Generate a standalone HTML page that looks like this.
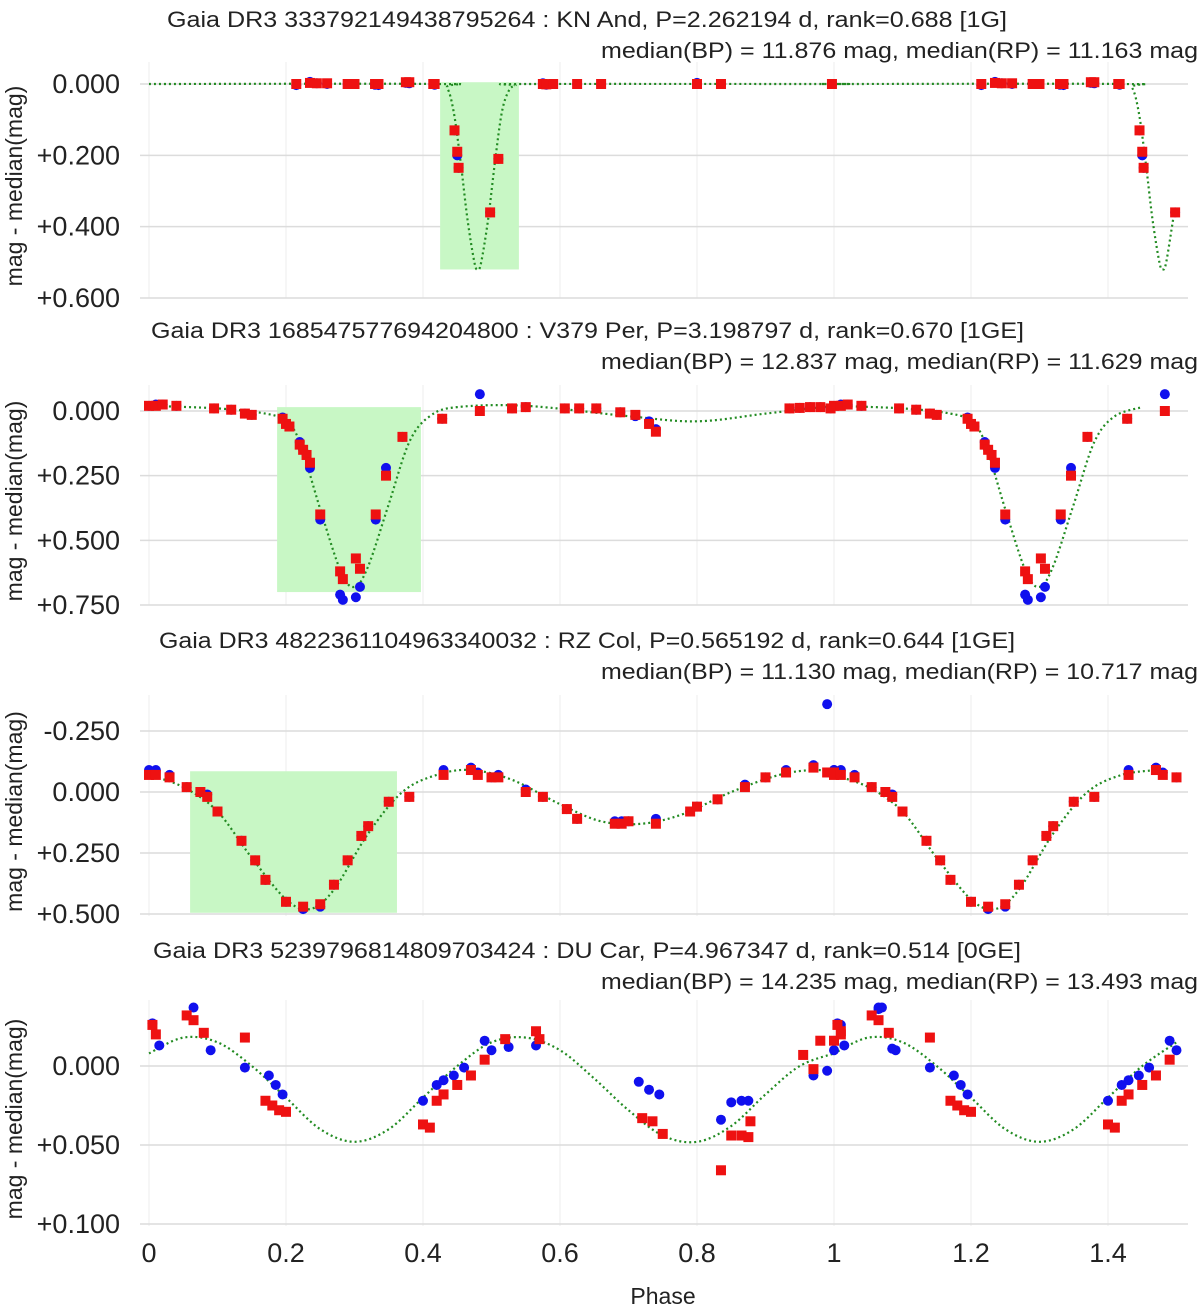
<!DOCTYPE html>
<html><head><meta charset="utf-8">
<style>
body{margin:0;background:#fff;}
svg{display:block;font-family:"Liberation Sans",sans-serif;}
</style></head>
<body>
<svg id="chart" width="1200" height="1307" viewBox="0 0 1200 1307" xmlns="http://www.w3.org/2000/svg"></svg>
<script>
// ---- Panel 1: KN And ----
const p1Titles = ["Gaia DR3 333792149438795264 : KN And, P=2.262194 d, rank=0.688 [1G]", "median(BP) = 11.876 mag, median(RP) = 11.163 mag"];
const p1Ticks = [0, 0.2, 0.4, 0.6];
const p1TickLabels = ["0.000", "+0.200", "+0.400", "+0.600"];
const p1Phase = [0.215,0.235,0.245,0.26,0.29,0.3,0.33,0.335,0.375,0.38,0.415,0.417,0.446,0.45,0.452,0.51,0.498,0.575,0.58,0.59,0.625,0.66,0.8,0.835,0.997];
const p1Red = [0,-0.003,-0.002,-0.002,0,0,0,0,-0.005,-0.005,0,0,0.13,0.19,0.235,0.21,0.36,0,0.001,0,0,0,0,0,0];
const p1Blue = [0.003,-0.006,-0.002,0,0,0,0.002,0.003,-0.003,-0.002,0,0.002,0.13,0.2,0.235,0.21,0.36,-0.002,0.002,0,0,0,-0.003,0,0];
const p1ModelPhase = [0,0.42,0.435,0.445,0.455,0.465,0.475,0.48,0.485,0.495,0.505,0.515,0.525,0.535,0.55,1];
const p1ModelMag = [0,0,0.01,0.08,0.22,0.38,0.5,0.52,0.5,0.38,0.22,0.08,0.02,0.004,0,0];
const p1Shade = [0.425, 0.54, -0.005, 0.52];

// ---- Panel 2: V379 Per ----
const p2Titles = ["Gaia DR3 168547577694204800 : V379 Per, P=3.198797 d, rank=0.670 [1GE]", "median(BP) = 12.837 mag, median(RP) = 11.629 mag"];
const p2Ticks = [0, 0.25, 0.5, 0.75];
const p2TickLabels = ["0.000", "+0.250", "+0.500", "+0.750"];
const p2Phase = [0,0.01,0.02,0.04,0.095,0.12,0.14,0.15,0.195,0.2,0.205,0.22,0.225,0.23,0.235,0.25,0.279,0.283,0.302,0.308,0.331,0.346,0.37,0.428,0.483,0.53,0.55,0.607,0.628,0.653,0.688,0.71,0.73,0.74,0.935,0.95,0.965,0.98,0.995];
const p2Red = [-0.02,-0.02,-0.025,-0.02,-0.01,-0.005,0.01,0.015,0.03,0.05,0.06,0.13,0.15,0.17,0.2,0.4,0.62,0.65,0.57,0.61,0.4,0.25,0.1,0.03,0,-0.01,-0.015,-0.01,-0.01,-0.01,0.005,0.015,0.05,0.08,-0.01,-0.012,-0.015,-0.015,-0.01];
const p2Blue = [-0.02,-0.025,-0.025,-0.02,-0.01,-0.005,0.01,0.015,0.025,0.05,0.06,0.12,0.15,0.17,0.22,0.42,0.71,0.73,0.72,0.68,0.42,0.22,0.1,0.03,-0.065,-0.01,-0.015,-0.01,-0.01,-0.01,0.005,0.02,0.04,0.07,-0.01,-0.012,-0.015,-0.015,-0.01];
const p2ModelPhase = [0,0.1,0.17,0.2,0.22,0.25,0.28,0.3,0.32,0.35,0.38,0.41,0.45,0.55,0.7,0.8,0.9,1];
const p2ModelMag = [-0.02,-0.01,0.01,0.04,0.12,0.38,0.62,0.68,0.6,0.36,0.12,0.02,-0.015,-0.02,0.02,0.04,0.01,-0.02];
const p2Shade = [0.187, 0.397, -0.015, 0.7];

// ---- Panel 3: RZ Col ----
const p3Titles = ["Gaia DR3 4822361104963340032 : RZ Col, P=0.565192 d, rank=0.644 [1GE]", "median(BP) = 11.130 mag, median(RP) = 10.717 mag"];
const p3Ticks = [-0.25, 0, 0.25, 0.5];
const p3TickLabels = ["-0.250", "0.000", "+0.250", "+0.500"];
const p3Phase = [0,0.01,0.03,0.055,0.075,0.085,0.1,0.135,0.155,0.17,0.2,0.225,0.25,0.27,0.29,0.31,0.32,0.35,0.38,0.43,0.47,0.48,0.5,0.51,0.55,0.575,0.61,0.625,0.68,0.69,0.7,0.74,0.79,0.8,0.83,0.87,0.9,0.93,0.97,0.99,1.0];
const p3Red = [-0.07,-0.07,-0.06,-0.02,0.0,0.02,0.08,0.2,0.28,0.36,0.45,0.47,0.46,0.38,0.28,0.18,0.14,0.04,0.02,-0.07,-0.09,-0.07,-0.06,-0.06,0.0,0.02,0.07,0.11,0.13,0.13,0.12,0.13,0.08,0.06,0.03,-0.02,-0.06,-0.08,-0.1,-0.08,-0.08];
const p3Blue = [-0.09,-0.09,-0.07,-0.02,0.0,0.01,0.08,0.2,0.28,0.36,0.45,0.48,0.47,0.38,0.28,0.18,0.14,0.04,0.02,-0.09,-0.1,-0.08,-0.06,-0.07,-0.01,0.02,0.07,0.11,0.12,0.12,0.12,0.11,0.08,0.06,0.03,-0.03,-0.06,-0.09,-0.11,-0.36,-0.09];
const p3ModelPhase = [0,0.05,0.1,0.15,0.2,0.235,0.27,0.32,0.37,0.42,0.47,0.53,0.6,0.66,0.72,0.78,0.85,0.92,0.97,1];
const p3ModelMag = [-0.07,-0.02,0.08,0.27,0.44,0.48,0.4,0.17,0.0,-0.07,-0.09,-0.05,0.05,0.12,0.13,0.09,0.0,-0.07,-0.09,-0.08];
const p3Shade = [0.06, 0.362, -0.085, 0.495];

// ---- Panel 4: DU Car ----
const p4Titles = ["Gaia DR3 5239796814809703424 : DU Car, P=4.967347 d, rank=0.514 [0GE]", "median(BP) = 14.235 mag, median(RP) = 13.493 mag"];
const p4Ticks = [0, 0.05, 0.1];
const p4TickLabels = ["0.000", "+0.050", "+0.100"];
const p4RedPhase = [0.005,0.01,0.055,0.065,0.08,0.14,0.17,0.18,0.19,0.2,0.4,0.41,0.42,0.43,0.45,0.47,0.49,0.52,0.565,0.57,0.72,0.735,0.75,0.835,0.85,0.865,0.875,0.878,0.955,0.97,0.98,1.0,1.01];
const p4Red = [-0.026,-0.02,-0.032,-0.029,-0.021,-0.018,0.022,0.025,0.028,0.029,0.037,0.039,0.022,0.018,0.012,0.006,-0.004,-0.017,-0.022,-0.017,0.033,0.035,0.043,0.066,0.044,0.044,0.045,0.035,-0.007,0.002,-0.016,-0.016,-0.022];
const p4BluePhase = [0.005,0.015,0.065,0.09,0.14,0.175,0.185,0.195,0.4,0.42,0.43,0.445,0.46,0.49,0.5,0.525,0.565,0.715,0.73,0.745,0.835,0.85,0.865,0.875,0.97,0.99,1.0,1.01,1.065,1.07,1.085];
const p4Blue = [-0.027,-0.013,-0.037,-0.01,0.001,0.006,0.012,0.018,0.022,0.012,0.009,0.006,0.001,-0.016,-0.01,-0.012,-0.013,0.01,0.015,0.018,0.034,0.023,0.022,0.022,0.006,0.003,-0.01,-0.026,-0.036,-0.037,-0.011];
const p4ModelPhase = [0,0.05,0.1,0.15,0.2,0.25,0.3,0.35,0.4,0.45,0.5,0.55,0.6,0.65,0.7,0.75,0.8,0.85,0.9,0.95,1];
const p4ModelMag = [-0.008,-0.018,-0.015,0.0,0.02,0.04,0.048,0.04,0.02,0.0,-0.015,-0.018,-0.01,0.008,0.028,0.044,0.048,0.038,0.018,0.0,-0.008];
const p4Shade = null;

const xTicks = [0, 0.2, 0.4, 0.6, 0.8, 1, 1.2, 1.4];
const xTickLabels = ["0", "0.2", "0.4", "0.6", "0.8", "1", "1.2", "1.4"];

const NS = "http://www.w3.org/2000/svg";
const svg = document.getElementById("chart");
const X0 = 149, XS = 685, PL = 140, PR = 1188;
const xPx = p => X0 + p * XS;
function mk(tag, attrs, parent) {
  const e = document.createElementNS(NS, tag);
  for (const k in attrs) e.setAttribute(k, attrs[k]);
  (parent || svg).appendChild(e);
  return e;
}
function extend(ph, v) {
  const P = [], V = [];
  ph.forEach((p, i) => { P.push(p); V.push(v[i]); });
  ph.forEach((p, i) => { if (p + 1 <= 1.5) { P.push(p + 1); V.push(v[i]); } });
  return [P, V];
}
function smoothPath(pts) {
  let d = "M" + pts[0][0].toFixed(1) + "," + pts[0][1].toFixed(1);
  for (let i = 0; i < pts.length - 1; i++) {
    const p0 = pts[Math.max(0, i - 1)], p1 = pts[i], p2 = pts[i + 1], p3 = pts[Math.min(pts.length - 1, i + 2)];
    const c1x = p1[0] + (p2[0] - p0[0]) / 6, c1y = p1[1] + (p2[1] - p0[1]) / 6;
    const c2x = p2[0] - (p3[0] - p1[0]) / 6, c2y = p2[1] - (p3[1] - p1[1]) / 6;
    d += "C" + c1x.toFixed(1) + "," + c1y.toFixed(1) + " " + c2x.toFixed(1) + "," + c2y.toFixed(1) + " " + p2[0].toFixed(1) + "," + p2[1].toFixed(1);
  }
  return d;
}
function panel(cfg) {
  const g = mk("g", {});
  
  
  const yPx = m => cfg.y0 + (m - cfg.t0) / (cfg.t1 - cfg.t0) * (cfg.y1 - cfg.y0);
  xTicks.forEach(t => {
    const l = mk("line", {x1: xPx(t), x2: xPx(t), y1: cfg.top, y2: cfg.bottom, stroke: "#ececec", "stroke-width": 1}, g);
    
    
  });
  cfg.ticks.forEach((t, i) => {
    const l = mk("line", {x1: PL, x2: PR, y1: yPx(t), y2: yPx(t), stroke: "#dcdcdc", "stroke-width": 1.5}, g);
    
    
    const tx = mk("text", {x: 120, y: yPx(t) + 9, "text-anchor": "end", "font-size": 27, fill: "#222"}, g);
    tx.textContent = cfg.labels[i];
    
    
  });
  if (cfg.shade) {
    const r = mk("rect", {x: xPx(cfg.shade[0]), y: yPx(cfg.shade[2]), width: xPx(cfg.shade[1]) - xPx(cfg.shade[0]), height: yPx(cfg.shade[3]) - yPx(cfg.shade[2]), fill: "#c8f7c5"}, g);
    
    
  }
  const [mp, mv] = extend(cfg.mPh, cfg.mMag);
  const pts = mp.map((p, i) => [xPx(p), yPx(mv[i])]).filter(q => q[0] <= xPx(1.5) + 1);
  const path = mk("path", {d: smoothPath(pts), fill: "none", stroke: "#228b22", "stroke-width": 2.2, "stroke-dasharray": "2,3"}, g);
  
  
  const [bp, bv] = extend(cfg.bPh, cfg.blue);
  bp.forEach((p, i) => {
    const c = mk("circle", {cx: xPx(p), cy: yPx(bv[i]), r: 5, fill: "#1010ee"}, g);
    
    
  });
  const [rp, rv] = extend(cfg.rPh, cfg.red);
  rp.forEach((p, i) => {
    const s = mk("rect", {x: xPx(p) - 5, y: yPx(rv[i]) - 5, width: 10, height: 10, fill: "#ee1111"}, g);
    
    
  });
  const t1 = mk("text", {x: cfg.t1x, y: cfg.titleY, "font-size": 22.5, fill: "#222", textLength: cfg.t1w, lengthAdjust: "spacingAndGlyphs"}, g);
  t1.textContent = cfg.titles[0];
  
  
  const t2 = mk("text", {x: 601, y: cfg.titleY + 31, "font-size": 22.5, fill: "#222", textLength: 597, lengthAdjust: "spacingAndGlyphs"}, g);
  t2.textContent = cfg.titles[1];
  
  
  const cy = (cfg.top + cfg.bottom) / 2 + 6;
  const yt = mk("text", {x: 0, y: 0, transform: "translate(22," + cy + ") rotate(-90)", "text-anchor": "middle", "font-size": 23, fill: "#222"}, g);
  yt.textContent = "mag - median(mag)";
  
  
}
panel({name: "panel-kn-and", titles: p1Titles, ticks: p1Ticks, labels: p1TickLabels, t0: 0, t1: 0.6, y0: 84, y1: 298, top: 62, bottom: 298, titleY: 27, t1x: 167, t1w: 840,
  rPh: p1Phase, red: p1Red, bPh: p1Phase, blue: p1Blue, mPh: p1ModelPhase, mMag: p1ModelMag, shade: p1Shade});
panel({name: "panel-v379-per", titles: p2Titles, ticks: p2Ticks, labels: p2TickLabels, t0: 0, t1: 0.75, y0: 411, y1: 605, top: 385, bottom: 605, titleY: 338, t1x: 151, t1w: 873,
  rPh: p2Phase, red: p2Red, bPh: p2Phase, blue: p2Blue, mPh: p2ModelPhase, mMag: p2ModelMag, shade: p2Shade});
panel({name: "panel-rz-col", titles: p3Titles, ticks: p3Ticks, labels: p3TickLabels, t0: -0.25, t1: 0.5, y0: 731, y1: 914, top: 695, bottom: 916, titleY: 648, t1x: 159, t1w: 856,
  rPh: p3Phase, red: p3Red, bPh: p3Phase, blue: p3Blue, mPh: p3ModelPhase, mMag: p3ModelMag, shade: p3Shade});
panel({name: "panel-du-car", titles: p4Titles, ticks: p4Ticks, labels: p4TickLabels, t0: 0, t1: 0.1, y0: 1066, y1: 1224, top: 1000, bottom: 1226, titleY: 958, t1x: 153, t1w: 868,
  rPh: p4RedPhase, red: p4Red, bPh: p4BluePhase, blue: p4Blue, mPh: p4ModelPhase, mMag: p4ModelMag, shade: p4Shade});
xTicks.forEach((t, i) => {
  const tx = mk("text", {x: xPx(t), y: 1262, "text-anchor": "middle", "font-size": 27, fill: "#222"});
  tx.textContent = xTickLabels[i];
  
  
});
const xt = mk("text", {x: 663, y: 1304, "text-anchor": "middle", "font-size": 23, fill: "#222"});
xt.textContent = "Phase";


</script>
</body></html>
